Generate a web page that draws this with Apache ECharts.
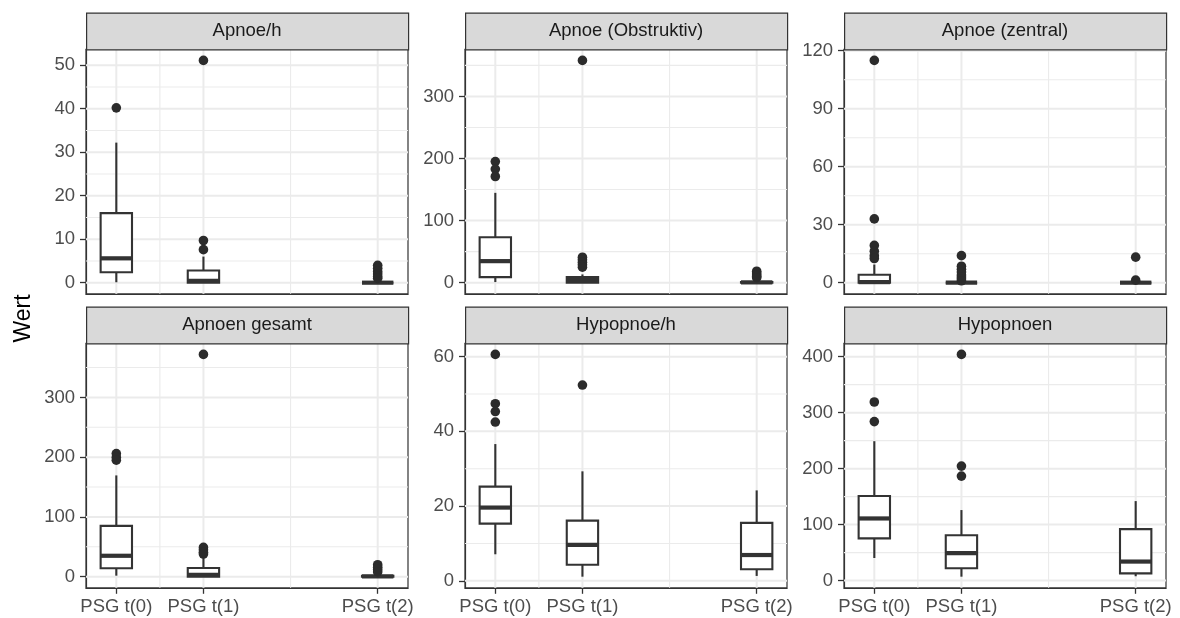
<!DOCTYPE html>
<html>
<head>
<meta charset="utf-8">
<script src="https://cdn.jsdelivr.net/npm/echarts@6/dist/echarts.min.js"></script>
<style>html,body{margin:0;padding:0;background:#fff}#c{width:1180px;height:618px}</style>
</head>
<body>
<div id="c"></div>
<script>
// ---------- data ----------
const categories = ['PSG t(0)', 'PSG t(1)', 'PSG t(2)'];
const timePos = [0, 1, 3];
const xMinorBreaks = [0.5, 2];
const yAxisTitle = 'Wert';
const panelTitles = ['Apnoe/h', 'Apnoe (Obstruktiv)', 'Apnoe (zentral)', 'Apnoen gesamt', 'Hypopnoe/h', 'Hypopnoen'];

// box stats per category: [lower whisker, Q1, median, Q3, upper whisker]
const boxApnoeH = [[0.1, 2.4, 5.6, 16.0, 32.2], [0, 0, 0.4, 2.8, 6.0], [0, 0, 0, 0, 0.5]];
const outApnoeH = [[40.2], [51.1, 9.7, 7.6], [4.0, 3.3, 2.6, 2.0, 1.4, 1.0]];
const ticksApnoeH = [0, 10, 20, 30, 40, 50];
const minorApnoeH = [5, 15, 25, 35, 45];

const boxObstr = [[1, 9, 34.7, 73.3, 144.7], [0, 0, 4, 9, 13.3], [0, 0, 0.5, 1, 3]];
const outObstr = [[195, 183, 171], [358, 41, 37, 33, 29, 25], [18.5, 15.5, 12.5, 10, 8]];
const ticksObstr = [0, 100, 200, 300];
const minorObstr = [50, 150, 250, 350];

const boxZentral = [[0, 0, 0.3, 4.1, 9.4], [0, 0, 0, 0, 0], [0, 0, 0, 0, 0]];
const outZentral = [[115, 33, 19.3, 16.3, 14, 12.5], [14, 8.5, 7, 5.5, 4, 3, 2, 1], [13.2, 1.3]];
const ticksZentral = [0, 30, 60, 90, 120];
const minorZentral = [15, 45, 75, 105];

const boxGesamt = [[1.7, 14, 35, 85, 169.5], [0, 0, 3, 14.5, 32], [0, 0, 0.5, 1.5, 3]];
const outGesamt = [[206, 200, 195], [372, 49, 45, 41, 38], [20, 16, 12, 8]];
const ticksGesamt = [0, 100, 200, 300];
const minorGesamt = [50, 150, 250, 350];

const boxHypoH = [[7.1, 15.3, 19.6, 25.2, 36.6], [1.1, 4.3, 9.6, 16.1, 29.3], [1.3, 3.1, 6.9, 15.5, 24.2]];
const outHypoH = [[60.6, 47.4, 45.3, 42.5], [52.4], []];
const ticksHypoH = [0, 20, 40, 60];
const minorHypoH = [10, 30, 50];

const boxHypo = [[40.4, 75.4, 111, 151, 249], [7, 22, 49, 81, 126], [7.8, 13, 34, 92, 142]];
const outHypo = [[319, 284], [404, 204.5, 186.7], []];
const ticksHypo = [0, 100, 200, 300, 400];
const minorHypo = [50, 150, 250, 350];

// ---------- styles / layout ----------
const FONT = '"Liberation Sans", Arial, Helvetica, sans-serif';
const BOX_W = 0.36;
const colLeft = [86, 465, 844];
const panelW = 322;
const rowTop = [49.3, 343.3];
const panelH = 244.5;
const stripH = 36.8;
const INK = '#333333';

const panels = [
  {box: boxApnoeH, out: outApnoeH, ticks: ticksApnoeH, minor: minorApnoeH},
  {box: boxObstr, out: outObstr, ticks: ticksObstr, minor: minorObstr},
  {box: boxZentral, out: outZentral, ticks: ticksZentral, minor: minorZentral},
  {box: boxGesamt, out: outGesamt, ticks: ticksGesamt, minor: minorGesamt},
  {box: boxHypoH, out: outHypoH, ticks: ticksHypoH, minor: minorHypoH},
  {box: boxHypo, out: outHypo, ticks: ticksHypo, minor: minorHypo}
];

function expand(lo, hi) { const p = (hi - lo) * 0.05; return [lo - p, hi + p]; }
const xRange = expand(Math.min(...timePos) - BOX_W / 2, Math.max(...timePos) + BOX_W / 2);

const grids = [], xAxes = [], yAxes = [], series = [], graphics = [];

panels.forEach((p, i) => {
  const row = Math.floor(i / 3), col = i % 3;
  const all = [];
  p.box.forEach(b => all.push(...b));
  p.out.forEach(o => all.push(...o));
  const yRange = expand(Math.min(...all), Math.max(...all));

  grids.push({left: colLeft[col], top: rowTop[row], width: panelW, height: panelH,
    show: true, backgroundColor: '#fff', borderColor: INK, borderWidth: 1.2, containLabel: false});

  xAxes.push({gridIndex: i, type: 'value', min: xRange[0], max: xRange[1],
    axisLine: {show: true, onZero: false, lineStyle: {color: INK, width: 1.2}}, splitLine: {show: false},
    axisTick: {show: row === 1, customValues: timePos, length: 6, lineStyle: {color: INK, width: 1.3}},
    axisLabel: {show: row === 1, customValues: timePos, hideOverlap: false,
      formatter: v => categories[timePos.indexOf(Math.round(v))],
      color: '#4D4D4D', fontSize: 18.5, fontFamily: FONT, margin: 10}});

  yAxes.push({gridIndex: i, type: 'value', min: yRange[0], max: yRange[1],
    axisLine: {show: true, onZero: false, lineStyle: {color: INK, width: 1.2}}, splitLine: {show: false},
    axisTick: {show: true, customValues: p.ticks, length: 6, lineStyle: {color: INK, width: 1.3}},
    axisLabel: {show: true, customValues: p.ticks, hideOverlap: false,
      color: '#4D4D4D', fontSize: 18.5, fontFamily: FONT, margin: 11}});

  // grid lines: [value, orientation(0 = vertical, 1 = horizontal), major(1)/minor(0)]
  const gl = [];
  timePos.forEach(v => gl.push([v, 0, 1]));
  xMinorBreaks.forEach(v => gl.push([v, 0, 0]));
  p.ticks.forEach(v => gl.push([v, 1, 1]));
  p.minor.forEach(v => gl.push([v, 1, 0]));
  series.push({type: 'custom', xAxisIndex: i, yAxisIndex: i, silent: true, z: 1,
    encode: {x: -1, y: -1}, data: gl,
    renderItem: (params, api) => {
      const cs = params.coordSys;
      const v = api.value(0), orient = api.value(1), major = api.value(2);
      const style = {stroke: '#EBEBEB', lineWidth: major ? 2 : 1.1};
      if (orient === 0) {
        const x = api.coord([v, yRange[0]])[0];
        return {type: 'line', shape: {x1: x, y1: cs.y, x2: x, y2: cs.y + cs.height}, style};
      }
      const y = api.coord([xRange[0], v])[1];
      return {type: 'line', shape: {x1: cs.x, y1: y, x2: cs.x + cs.width, y2: y}, style};
    }});

  // boxes
  series.push({type: 'custom', xAxisIndex: i, yAxisIndex: i, silent: true, z: 3,
    encode: {x: 0, y: [1, 2, 3, 4, 5]},
    data: p.box.map((b, j) => [timePos[j], ...b]),
    renderItem: (params, api) => {
      const x = api.value(0);
      const lo = api.coord([x, api.value(1)]);
      const q1 = api.coord([x, api.value(2)]);
      const md = api.coord([x, api.value(3)]);
      const q3 = api.coord([x, api.value(4)]);
      const hi = api.coord([x, api.value(5)]);
      const l = api.coord([x - BOX_W / 2, 0])[0];
      const r = api.coord([x + BOX_W / 2, 0])[0];
      const st = {stroke: INK, lineWidth: 2.1, fill: null};
      return {type: 'group', children: [
        {type: 'line', shape: {x1: hi[0], y1: hi[1], x2: q3[0], y2: q3[1]}, style: st},
        {type: 'line', shape: {x1: lo[0], y1: lo[1], x2: q1[0], y2: q1[1]}, style: st},
        {type: 'rect', shape: {x: l, y: q3[1], width: r - l, height: q1[1] - q3[1]},
          style: {stroke: INK, lineWidth: 2.1, fill: '#fff'}},
        {type: 'line', shape: {x1: l, y1: md[1], x2: r, y2: md[1]}, style: {stroke: INK, lineWidth: 4.2}}
      ]};
    }});

  // outliers
  const pts = [];
  p.out.forEach((arr, j) => arr.forEach(v => pts.push([timePos[j], v])));
  series.push({type: 'scatter', xAxisIndex: i, yAxisIndex: i, silent: true, z: 4,
    symbol: 'circle', symbolSize: 9.6, itemStyle: {color: '#2b2b2b', opacity: 1}, data: pts});

  // strip
  graphics.push({type: 'rect', left: colLeft[col], top: rowTop[row] - stripH,
    shape: {width: panelW, height: stripH},
    style: {fill: '#D9D9D9', stroke: INK, lineWidth: 1.2}, z: 10});
  graphics.push({type: 'text', x: colLeft[col] + panelW / 2, y: rowTop[row] - stripH / 2 + 0.5,
    style: {text: panelTitles[i], font: '18.5px ' + FONT, fill: '#1A1A1A',
      textAlign: 'center', textVerticalAlign: 'middle'}, z: 11});
});

graphics.push({type: 'text', x: 24, y: (rowTop[0] + rowTop[1] + panelH) / 2, rotation: Math.PI / 2,
  style: {text: yAxisTitle, font: '23px ' + FONT, fill: '#000',
    textAlign: 'center', textVerticalAlign: 'middle'}});

const chart = echarts.init(document.getElementById('c'), null, {renderer: 'canvas'});
chart.setOption({
  animation: false,
  backgroundColor: '#fff',
  grid: grids, xAxis: xAxes, yAxis: yAxes, series: series, graphic: graphics
});
</script>
</body>
</html>
